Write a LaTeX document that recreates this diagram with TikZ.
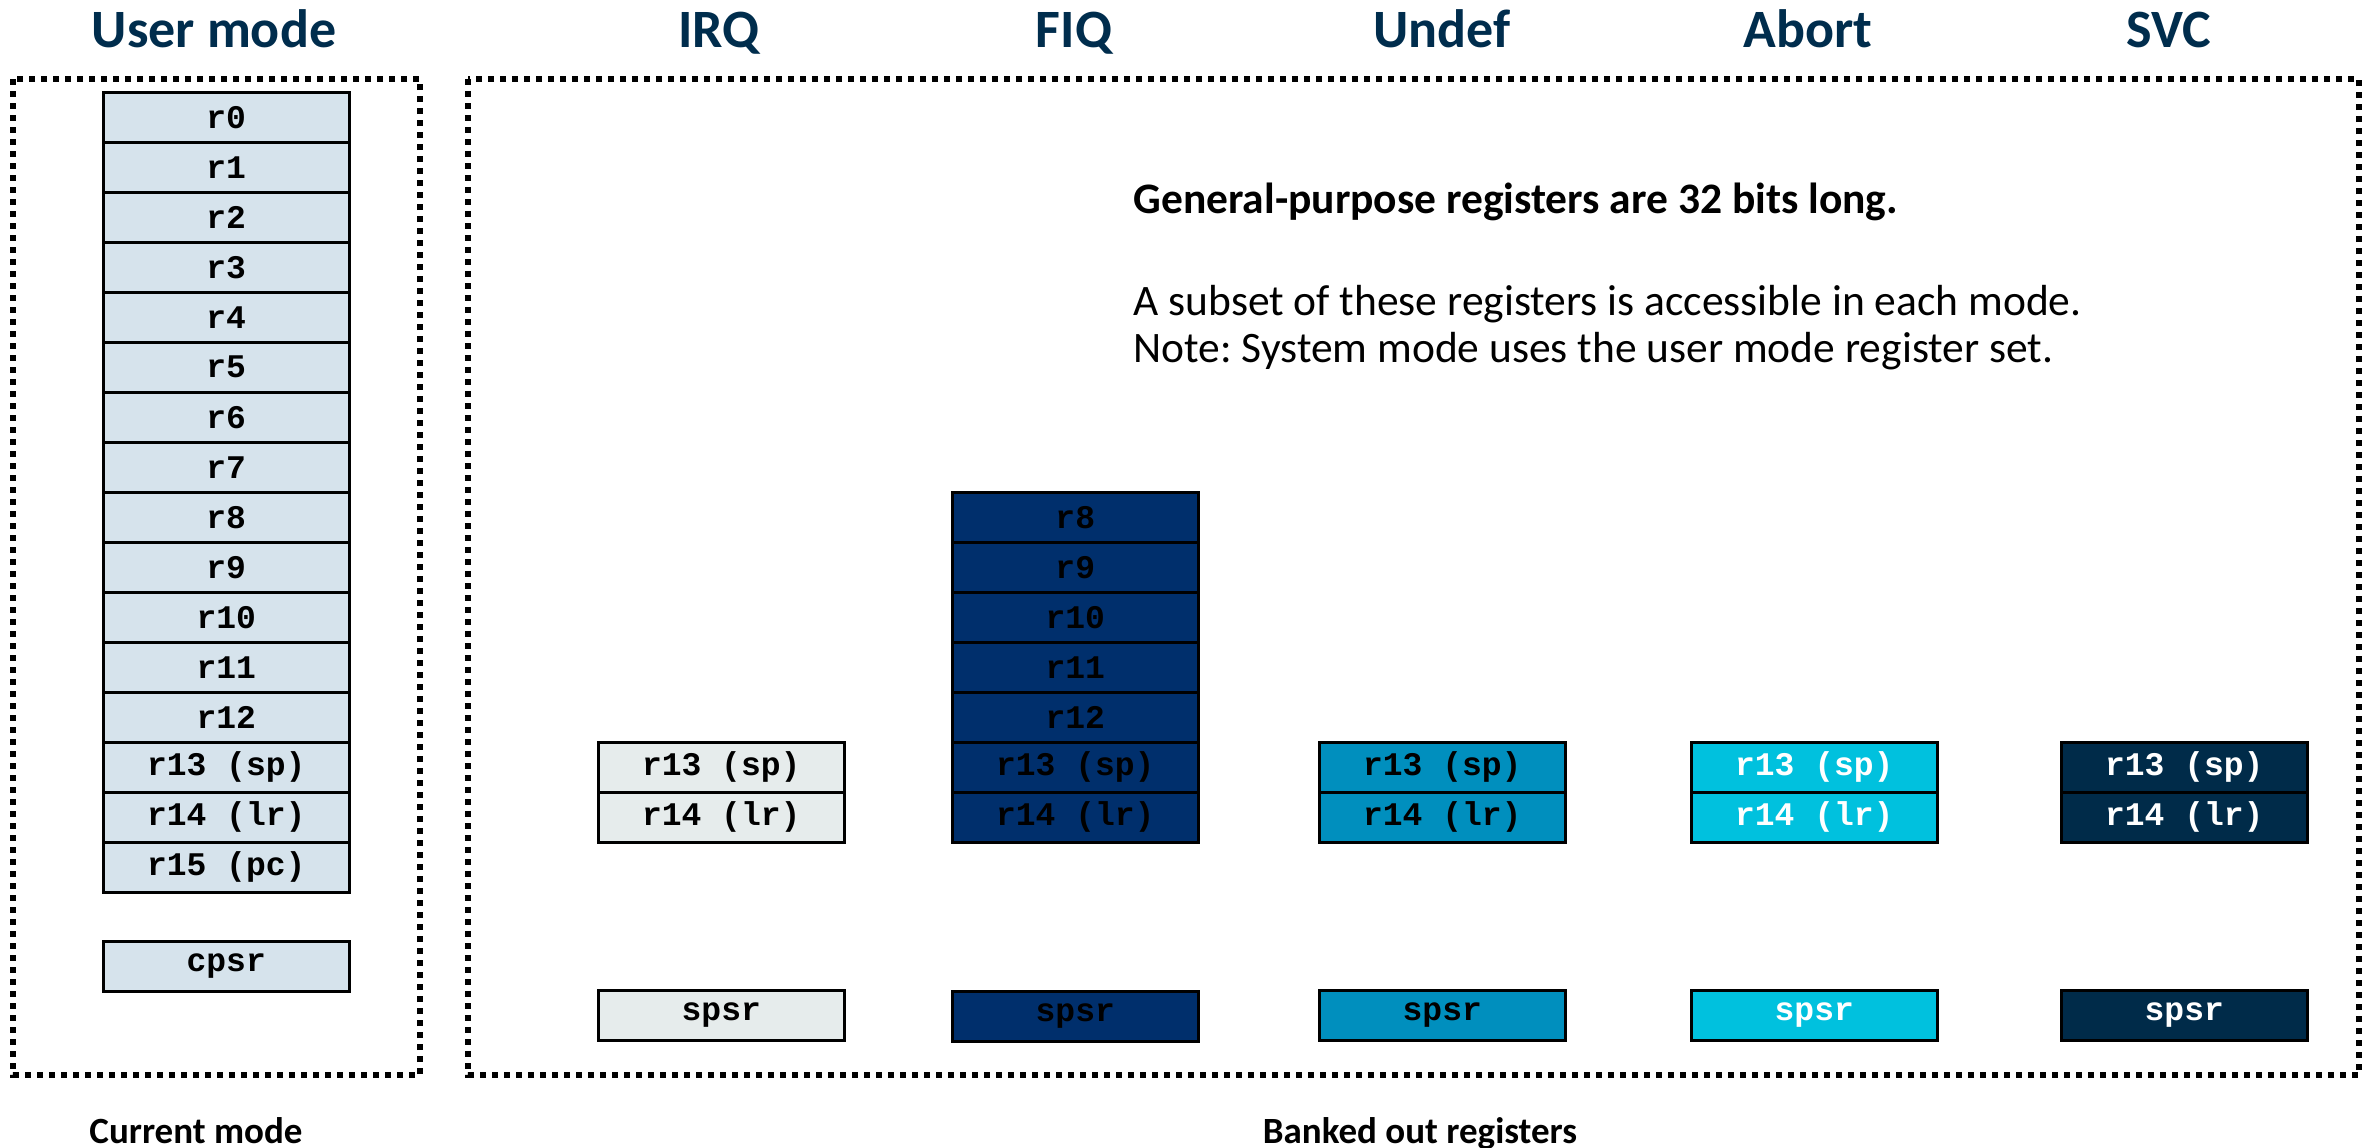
\documentclass[tikz,border=0pt]{standalone}
\usepackage{fontspec}
\setmainfont{Carlito}
\newfontfamily\regfont{Liberation Mono}
\frenchspacing
\definecolor{titlecol}{RGB}{0,45,77}
\definecolor{userfill}{RGB}{214,227,236}
\definecolor{irqfill}{RGB}{230,236,236}
\definecolor{fiqfill}{RGB}{0,47,108}
\definecolor{undeffill}{RGB}{0,143,190}
\definecolor{abortfill}{RGB}{0,193,222}
\definecolor{svcfill}{RGB}{0,43,73}
\begin{document}
\begin{tikzpicture}[x=1pt,y=-1pt,
  reg/.style={draw=black, line width=2.5pt, minimum width=246pt, minimum height=50pt,
    inner sep=0pt, anchor=north west, font=\regfont\bfseries\fontsize{33}{33}\selectfont},
  dotbox/.style={draw=black, line width=6pt, dash pattern=on 6pt off 6pt},
  mtitle/.style={anchor=base, text=titlecol, font=\bfseries\fontsize{54}{54}\selectfont},
  note/.style={anchor=base west, font=\fontsize{43.5}{43.5}\selectfont},
  caption/.style={anchor=base, font=\bfseries\fontsize{37}{37}\selectfont}]
\useasboundingbox (0,0) rectangle (2363,1148);
\fill[white] (0,0) rectangle (2363,1148);

% dotted frames
\draw[dotbox] (13,79) rectangle (420,1075);
\draw[dotbox] (468,79) rectangle (2359,1075);

% titles
\node[mtitle] (tuser) at (214,48) {User mode};
\node[mtitle] (tirq) at (719,48) {IRQ};
\node[mtitle] (tfiq) at (1074,48) {FIQ};
\node[mtitle] (tundef) at (1442,48) {Undef};
\node[mtitle] (tabort) at (1808,48) {Abort};
\node[mtitle] (tsvc) at (2169,48) {SVC};

% user mode registers
\foreach \t [count=\k from 0] in {r0,r1,r2,r3,r4,r5,r6,r7,r8,r9,r10,r11,r12,r13 (sp),r14 (lr),r15 (pc)}
  \node[reg, fill=userfill] (u\k) at (102,91+50*\k) {\t};
\node[reg, fill=userfill] (ucpsr) at (102,940) {cpsr};

% IRQ
\node[reg, fill=irqfill] (irq13) at (597,741) {r13 (sp)};
\node[reg, fill=irqfill] (irq14) at (597,791) {r14 (lr)};
\node[reg, fill=irqfill] (irqspsr) at (597,989) {spsr};

% FIQ
\foreach \t [count=\k from 8] in {r8,r9,r10,r11,r12,r13 (sp),r14 (lr)}
  \node[reg, fill=fiqfill] (fiq\k) at (951,91+50*\k) {\t};
\node[reg, fill=fiqfill] (fiqspsr) at (951,990) {spsr};

% Undef
\node[reg, fill=undeffill] (und13) at (1318,741) {r13 (sp)};
\node[reg, fill=undeffill] (und14) at (1318,791) {r14 (lr)};
\node[reg, fill=undeffill] (undspsr) at (1318,989) {spsr};

% Abort
\node[reg, fill=abortfill, text=white] (abt13) at (1690,741) {r13 (sp)};
\node[reg, fill=abortfill, text=white] (abt14) at (1690,791) {r14 (lr)};
\node[reg, fill=abortfill, text=white] (abtspsr) at (1690,989) {spsr};

% SVC
\node[reg, fill=svcfill, text=white] (svc13) at (2060,741) {r13 (sp)};
\node[reg, fill=svcfill, text=white] (svc14) at (2060,791) {r14 (lr)};
\node[reg, fill=svcfill, text=white] (svcspsr) at (2060,989) {spsr};

% notes
\node[note, font=\bfseries\fontsize{43.5}{43.5}\selectfont] (n1) at (1130,213) {General-purpose registers are 32 bits long.};
\node[note] (n2) at (1130,315) {A subset of these registers is accessible in each mode.};
\node[note] (n3) at (1130,362) {Note: System mode uses the user mode register set.};

% captions
\node[caption] (cur) at (196,1143) {Current mode};
\node[caption] (bank) at (1420,1143) {Banked out registers};
\end{tikzpicture}
\end{document}
